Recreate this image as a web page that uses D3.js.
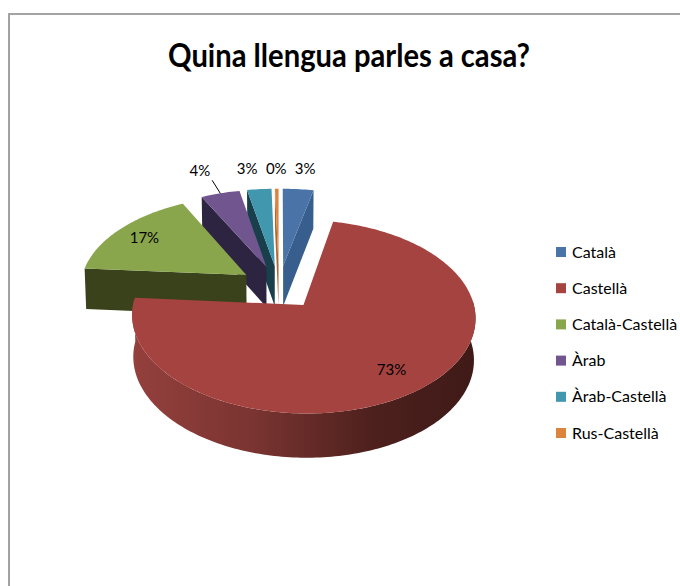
<!DOCTYPE html>
<html lang="en">
<head>
  <meta charset="UTF-8">
  <title>Quina llengua parles a casa?</title>
  <style>
    html, body { margin: 0; padding: 0; background: #fff; }
    svg { display: block; }
    text { font-family: Lato, "Open Sans", sans-serif; fill: #000; }
  </style>
</head>
<body>
  <svg id="svg" width="680" height="586"></svg>

  <script src="https://d3js.org/d3.v7.min.js"></script>
  <script>
    // ------ DATA ------------------------
    const categories = ['Català', 'Castellà', 'Català-Castellà', 'Àrab', 'Àrab-Castellà', 'Rus-Castellà']
    const values = [3.4, 72.8, 16.4, 4.3, 2.7, 0.4]
    const labels = ['3%', '73%', '17%', '4%', '3%', '0%']
    const topColors = ['#4a74a8', '#a54341', '#8aa64c', '#71558f', '#4097ae', '#dc843c']
    const faceColors = ['#375e8c', '#5c2522', '#3a421c', '#2c2440', '#1a3f4c', '#b0652d']

    // CONSTANTS
    const cx = 279, cy = 287        // where the unexploded pie centre lands
    const rx = 166.5, ry = 91       // pie radius on screen
    const k = 0.119                 // perspective strength
    const explode = 0.24
    const depth = 41
    const labelRadius = [1.3, 0.78, 0.8, 1.36, 1.3, 1.3]
    const labelShift = [3, 0, 0, -6, -8, 0]

    const svg = d3.select('#svg')

    // frame
    svg.append('path')
      .attr('d', 'M9,586V14H680')
      .attr('fill', 'none')
      .attr('stroke', '#a3a3a3')
      .attr('stroke-width', 2)

    // title
    svg.append('text')
      .attr('x', 349)
      .attr('y', 67)
      .attr('text-anchor', 'middle')
      .attr('textLength', 362)
      .attr('lengthAdjust', 'spacingAndGlyphs')
      .style('font-size', '33px')
      .style('font-weight', 700)
      .text('Quina llengua parles a casa?')

    // ------ PROJECTION ------------------------
    // u goes right, v goes to the back of the pie, both in pie radii
    const project = (u, v, low) => {
      const s = 1 / (1 + k * v)
      const drop = low ? depth * Math.sqrt(s) : 0
      const shrink = low ? 0.992 : 1
      return [cx + rx * u * s * shrink, cy - ry * v * s + drop]
    }

    const slices = d3.pie().sort(null).value(d => d)(values).map((d, i) => {
      const mid = (d.startAngle + d.endAngle) / 2
      return {
        i,
        start: d.startAngle,
        end: d.endAngle,
        mid,
        ou: explode * Math.sin(mid),
        ov: explode * Math.cos(mid)
      }
    })

    const rim = (s, a, r, low) => project(s.ou + r * Math.sin(a), s.ov + r * Math.cos(a), low)
    const apex = (s, low) => project(s.ou, s.ov, low)
    const arcAngles = (a0, a1) => {
      const n = Math.max(2, Math.ceil((a1 - a0) / 0.02))
      return d3.range(n + 1).map(j => a0 + (a1 - a0) * j / n)
    }
    const line = d3.line()
    const closed = pts => line(pts) + 'Z'

    // side of the big slice gets darker to the right
    const grad = svg.append('defs').append('linearGradient')
      .attr('id', 'sideGrad')
      .attr('gradientUnits', 'userSpaceOnUse')
      .attr('x1', 133).attr('x2', 476).attr('y1', 0).attr('y2', 0)
    grad.append('stop').attr('offset', '0').attr('stop-color', '#94403d')
    grad.append('stop').attr('offset', '0.35').attr('stop-color', '#7a3431')
    grad.append('stop').attr('offset', '0.7').attr('stop-color', '#4d201d')
    grad.append('stop').attr('offset', '1').attr('stop-color', '#3f1a17')

    // ------ DRAW ------------------------
    // back slices first
    const order = slices.slice().sort((a, b) => apex(a)[1] - apex(b)[1])
    const pieGroup = svg.append('g')

    order.forEach(s => {
      const g = pieGroup.append('g')
      const cut = a => closed([apex(s), rim(s, a, 1), rim(s, a, 1, true), apex(s, true)])

      // cut faces, only the ones turned to the viewer
      if (Math.sin(s.start) < 0) g.append('path').attr('d', cut(s.start)).attr('fill', faceColors[s.i])
      if (Math.sin(s.end) > 0) g.append('path').attr('d', cut(s.end)).attr('fill', faceColors[s.i])

      // outer wall, front half of the circle only
      const a0 = Math.max(s.start, Math.PI / 2 - 0.05)
      const a1 = Math.min(s.end, 3 * Math.PI / 2 + 0.05)
      if (a1 > a0) {
        const angles = arcAngles(a0, a1)
        const wall = angles.map(a => rim(s, a, 1))
          .concat(angles.slice().reverse().map(a => rim(s, a, 1, true)))
        g.append('path').attr('d', closed(wall)).attr('fill', 'url(#sideGrad)')
      }

      // top
      const topPts = [apex(s)].concat(arcAngles(s.start, s.end).map(a => rim(s, a, 1)))
      g.append('path').attr('d', closed(topPts)).attr('fill', topColors[s.i])
    })

    // ------ LABELS ------------------------
    const labelGroup = svg.append('g')
    slices.forEach(s => {
      const p = rim(s, s.mid, labelRadius[s.i])
      labelGroup.append('text')
        .attr('x', p[0] + labelShift[s.i])
        .attr('y', p[1])
        .attr('dy', '0.35em')
        .attr('text-anchor', 'middle')
        .style('font-size', '15px')
        .text(labels[s.i])
    })

    // leader line of the 4% label
    const purple = slices[3]
    svg.append('path')
      .attr('d', line([rim(purple, purple.mid, 1.2), rim(purple, purple.mid, 1)]))
      .attr('stroke', '#000')
      .attr('stroke-width', 1)
      .attr('fill', 'none')

    // ------ LEGEND ------------------------
    const legendY = d3.scalePoint()
      .domain(categories)
      .range([252, 433])

    const legend = svg.append('g')
      .selectAll('g')
      .data(categories)
      .enter()
      .append('g')
      .attr('transform', d => `translate(556, ${legendY(d)})`)

    legend.append('rect')
      .attr('x', 0)
      .attr('y', -5)
      .attr('width', 10)
      .attr('height', 10)
      .attr('fill', (d, i) => topColors[i])

    legend.append('text')
      .attr('x', 16)
      .attr('y', 0)
      .attr('dy', '0.35em')
      .style('font-size', '16px')
      .text(d => d)
  </script>
</body>
</html>
